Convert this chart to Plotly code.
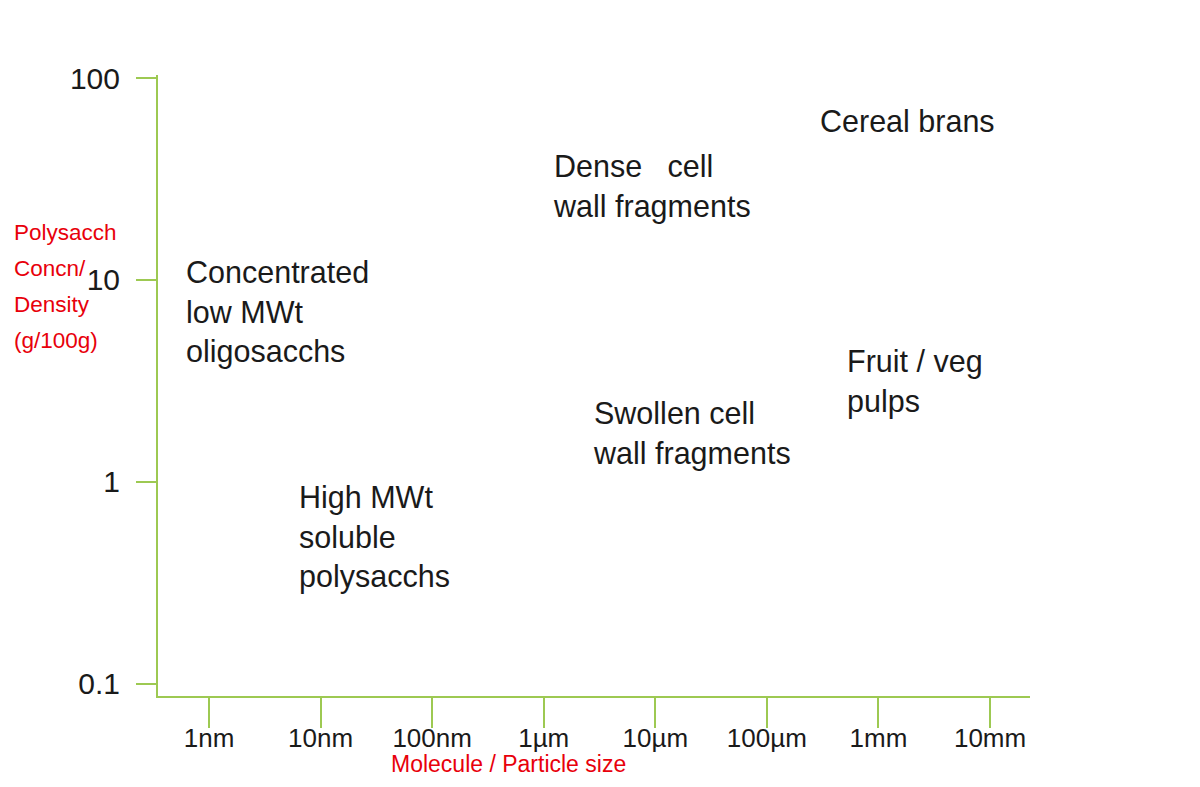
"""Polysaccharide concentration vs molecule / particle size map."""

import numpy as np
import plotly.graph_objects as go

AXIS_GREEN = "#9dc952"
RED = "#e8000b"
FONT = "Liberation Sans, Arial, sans-serif"

# Axis ticks
size_ticks_m = [1e-9, 1e-8, 1e-7, 1e-6, 1e-5, 1e-4, 1e-3, 1e-2]
size_tick_labels = ["1nm", "10nm", "100nm", "1µm", "10µm", "100µm", "1mm", "10mm"]
conc_ticks = [0.1, 1, 10, 100]
conc_tick_labels = ["0.1", "1", "10", "100"]

# Material regions: label, representative size (m), concentration (g/100g)
region_labels = [
    "Cereal brans",
    "Dense\u00a0\u00a0\u00a0cell<br>wall fragments",
    "Concentrated<br>low MWt<br>oligosacchs",
    "Fruit / veg<br>pulps",
    "Swollen cell<br>wall fragments",
    "High MWt<br>soluble<br>polysacchs",
]
region_size_m = [2.86e-4, 1.16e-6, 5.97e-10, 5.0e-4, 2.65e-6, 6.15e-9]
region_conc = [61.2, 29.2, 6.95, 3.13, 1.73, 0.535]

y_title_lines = ["Polysacch", "Concn/", "Density", "(g/100g)"]
x_title = "Molecule / Particle size"

fig = go.Figure()

# invisible trace so the axes are drawn
fig.add_trace(
    go.Scatter(
        x=region_size_m,
        y=region_conc,
        mode="markers",
        marker={"opacity": 0},
        hoverinfo="skip",
        showlegend=False,
    )
)

for label, sx, cy in zip(region_labels, region_size_m, region_conc):
    fig.add_annotation(
        x=np.log10(sx),
        y=np.log10(cy),
        xref="x",
        yref="y",
        text=label,
        showarrow=False,
        xanchor="left",
        yanchor="middle",
        align="left",
        font={"family": FONT, "size": 30.5, "color": "#1a1a1a"},
    )

# Red axis titles
for line, yp in zip(y_title_lines, [0.747, 0.689, 0.630, 0.572]):
    fig.add_annotation(
        x=-0.167,
        y=yp,
        xref="paper",
        yref="paper",
        text=line,
        showarrow=False,
        xanchor="left",
        yanchor="middle",
        font={"family": FONT, "size": 22.5, "color": RED},
    )

fig.add_annotation(
    x=0.4025,
    y=-0.11,
    xref="paper",
    yref="paper",
    text=x_title,
    showarrow=False,
    xanchor="center",
    yanchor="middle",
    font={"family": FONT, "size": 23, "color": RED},
)

fig.update_layout(
    width=1200,
    height=787,
    margin={"l": 150, "r": 178, "t": 67, "b": 99},
    paper_bgcolor="white",
    plot_bgcolor="white",
    showlegend=False,
    font={"family": FONT},
    xaxis={
        "type": "log",
        "range": [-9.457, -1.642],
        "tickvals": size_ticks_m,
        "ticktext": size_tick_labels,
        "ticks": "outside",
        "ticklen": 30,
        "tickwidth": 1.5,
        "tickcolor": AXIS_GREEN,
        "tickfont": {"size": 26, "color": "#1a1a1a"},
        "ticklabelstandoff": -12,
        "showline": True,
        "linecolor": AXIS_GREEN,
        "linewidth": 2,
        "showgrid": False,
        "zeroline": False,
    },
    yaxis={
        "type": "log",
        "range": [-1.06, 2.015],
        "tickvals": conc_ticks,
        "ticktext": conc_tick_labels,
        "ticks": "outside",
        "ticklen": 20,
        "tickwidth": 1.5,
        "tickcolor": AXIS_GREEN,
        "tickfont": {"size": 30, "color": "#1a1a1a"},
        "ticklabelstandoff": 10,
        "showline": True,
        "linecolor": AXIS_GREEN,
        "linewidth": 2,
        "showgrid": False,
        "zeroline": False,
    },
)

fig.write_html("out.html")
